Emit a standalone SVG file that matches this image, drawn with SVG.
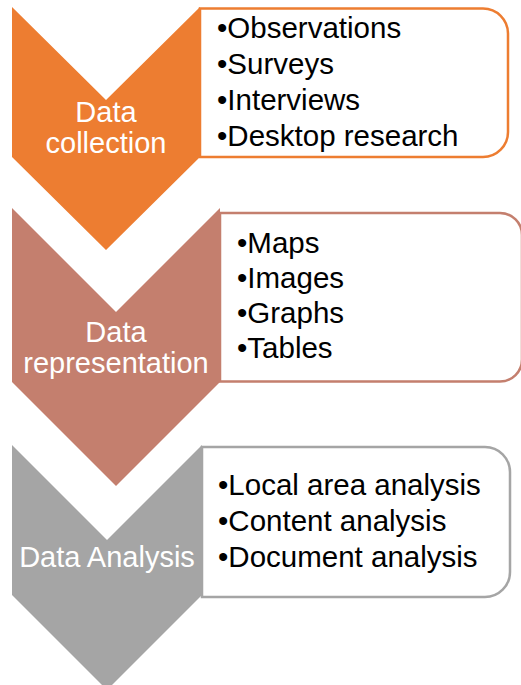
<svg xmlns="http://www.w3.org/2000/svg" width="521" height="685" viewBox="0 0 521 685">
<style>
.lbl{font-family:"Liberation Sans",Arial,sans-serif;font-size:29px;fill:#ffffff;text-anchor:middle}
.item{font-family:"Liberation Sans",Arial,sans-serif;font-size:29.5px;fill:#000000}
.box{fill:#ffffff;stroke-width:2.5}
</style>
<rect width="521" height="685" fill="#ffffff"/>
<g id="step1">
<path class="box" stroke="#ED7D31" d="M200,8.5 H483 A25,25 0 0 1 508,33.5 V132 A25,25 0 0 1 483,157 H200 Z"/>
<polygon fill="#ED7D31" points="12,7 106,100 200,7 200,157 106,250 12,157"/>
<text class="lbl" x="106" y="122">Data</text>
<text class="lbl" x="106" y="153">collection</text>
<text class="item" x="217" y="38">•Observations</text>
<text class="item" x="217" y="74">•Surveys</text>
<text class="item" x="217" y="110">•Interviews</text>
<text class="item" x="217" y="146">•Desktop research</text>
</g>
<g id="step2">
<path class="box" stroke="#C47F6E" d="M220,213 H500 A22,22 0 0 1 522,235 V359.5 A22,22 0 0 1 500,381.5 H220 Z"/>
<polygon fill="#C47F6E" points="12,208 116,312 220,208 220,382 116,486 12,382"/>
<text class="lbl" x="116" y="342">Data</text>
<text class="lbl" x="116" y="373">representation</text>
<text class="item" x="237" y="253">•Maps</text>
<text class="item" x="237" y="288">•Images</text>
<text class="item" x="237" y="323">•Graphs</text>
<text class="item" x="237" y="358">•Tables</text>
</g>
<g id="step3">
<path class="box" stroke="#A5A5A5" d="M202,447 H485 A25,25 0 0 1 510,472 V572 A25,25 0 0 1 485,597 H202 Z"/>
<polygon fill="#A5A5A5" points="12,445 107,540 202,445 202,595 107,690 12,595"/>
<text class="lbl" x="107" y="567">Data Analysis</text>
<text class="item" x="218" y="495">•Local area analysis</text>
<text class="item" x="218" y="531">•Content analysis</text>
<text class="item" x="218" y="567">•Document analysis</text>
</g>
<g id="connectors"/>
</svg>
